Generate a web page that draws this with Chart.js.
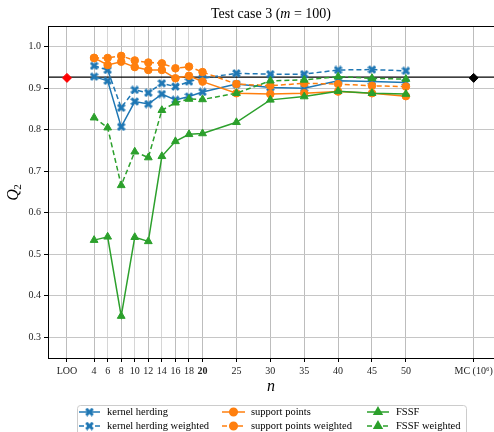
<!DOCTYPE html>
<html>
<head>
<meta charset="utf-8">
<script src="https://cdn.jsdelivr.net/npm/chart.js@4.4.1/dist/chart.umd.min.js"></script>
<style>
  html, body { margin: 0; padding: 0; background: #fff; overflow: hidden; }
  #wrap { width: 520px; height: 440px; }
</style>
</head>
<body>
<div id="wrap"><canvas id="chart" width="520" height="440"></canvas></div>
<script>
// sample sizes n
const nValues = [4, 6, 8, 10, 12, 14, 16, 18, 20, 25, 30, 35, 40, 45, 50];

// Q2 values
const kernelHerding = [0.928, 0.918, 0.807, 0.868, 0.862, 0.886, 0.872, 0.880, 0.891, 0.910, 0.902, 0.900, 0.918, 0.916, 0.914];
const kernelHerdingW = [0.954, 0.944, 0.853, 0.896, 0.889, 0.912, 0.904, 0.916, 0.924, 0.936, 0.934, 0.934, 0.944, 0.945, 0.942];
const supportPoints = [0.973, 0.956, 0.964, 0.951, 0.944, 0.944, 0.924, 0.930, 0.916, 0.888, 0.886, 0.888, 0.892, 0.888, 0.881];
const supportPointsW = [0.973, 0.973, 0.978, 0.967, 0.962, 0.960, 0.948, 0.952, 0.939, 0.910, 0.906, 0.912, 0.910, 0.906, 0.904];
const fssf = [0.534, 0.542, 0.351, 0.541, 0.531, 0.736, 0.772, 0.789, 0.791, 0.818, 0.872, 0.880, 0.893, 0.888, 0.886];
const fssfW = [0.829, 0.805, 0.666, 0.747, 0.733, 0.847, 0.865, 0.874, 0.873, 0.888, 0.918, 0.920, 0.928, 0.924, 0.922];

// reference values: LOO estimate and Monte Carlo (10^6)
const refLine = 0.927;
const looValue = 0.925;
const mcValue = 0.925;

// tick positions / labels
const xTicks = [0, 4, 6, 8, 10, 12, 14, 16, 18, 20, 25, 30, 35, 40, 45, 50, 60];
const yTicks = [0.3, 0.4, 0.5, 0.6, 0.7, 0.8, 0.9, 1.0];

const BLUE = "#1f77b4", ORANGE = "#ff7f0e", GREEN = "#2ca02c";
const SERIF = "'Liberation Serif', 'DejaVu Serif', serif";

// filled "X" marker like matplotlib's
function makeXMarker(color) {
    const c = document.createElement("canvas");
    c.width = 9; c.height = 9;
    const g = c.getContext("2d");
    g.strokeStyle = color;
    g.lineWidth = 3;
    g.beginPath();
    g.moveTo(1.2, 1.2); g.lineTo(7.8, 7.8);
    g.moveTo(7.8, 1.2); g.lineTo(1.2, 7.8);
    g.stroke();
    return c;
}
const xMarker = makeXMarker(BLUE);

function pts(vals) {
    return vals.map((v, i) => ({ x: nValues[i], y: v }));
}

function series(label, vals, color, style, dashed, order) {
    return {
        label,
        data: pts(vals),
        borderColor: color,
        backgroundColor: color,
        borderWidth: 1.5,
        borderDash: dashed ? [5, 3] : [],
        pointStyle: style,
        pointRadius: style === "circle" ? 3.8 : 4.5,
        pointBorderWidth: 1,
        pointBorderColor: color,
        pointBackgroundColor: color,
        tension: 0,
        order,
    };
}

const datasets = [
    {
        label: "ref",
        data: [{ x: -2.8, y: refLine }, { x: 63, y: refLine }],
        borderColor: "#000",
        borderWidth: 1.2,
        pointRadius: 0,
        order: 20,
        legendSkip: true,
    },
    series("kernel herding", kernelHerding, BLUE, xMarker, false, 10),
    series("kernel herding weighted", kernelHerdingW, BLUE, xMarker, true, 9),
    series("support points", supportPoints, ORANGE, "circle", false, 8),
    series("support points weighted", supportPointsW, ORANGE, "circle", true, 7),
    series("FSSF", fssf, GREEN, "triangle", false, 6),
    series("FSSF weighted", fssfW, GREEN, "triangle", true, 5),
    {
        label: "LOO",
        data: [{ x: 0, y: looValue }],
        showLine: false,
        pointStyle: "rectRot",
        pointRadius: 4.5,
        backgroundColor: "#ff0000",
        borderColor: "#ff0000",
        order: 1,
        legendSkip: true,
    },
    {
        label: "MC",
        data: [{ x: 60, y: mcValue }],
        showLine: false,
        pointStyle: "rectRot",
        pointRadius: 4.5,
        backgroundColor: "#000",
        borderColor: "#000",
        order: 1,
        legendSkip: true,
    },
];

// Title, axis labels, frame and the legend box
const decorPlugin = {
    id: "decor",
    afterDraw(chart) {
        const ctx = chart.ctx;
        const area = chart.chartArea;
        ctx.save();

        // frame
        ctx.strokeStyle = "#000";
        ctx.lineWidth = 1;
        ctx.strokeRect(area.left + 0.5, area.top + 0.5, area.right - area.left, area.bottom - area.top);

        // title with italic m
        const cx = (area.left + area.right) / 2;
        const parts = [
            { t: "Test case 3 (", f: "14px " + SERIF },
            { t: "m", f: "italic 14px " + SERIF },
            { t: " = 100)", f: "14px " + SERIF },
        ];
        let total = 0;
        parts.forEach(p => { ctx.font = p.f; p.w = ctx.measureText(p.t).width; total += p.w; });
        let x = cx - total / 2;
        ctx.fillStyle = "#000";
        ctx.textBaseline = "middle";
        ctx.textAlign = "left";
        parts.forEach(p => { ctx.font = p.f; ctx.fillText(p.t, x, 14); x += p.w; });

        // x label
        ctx.font = "italic 16px " + SERIF;
        ctx.textAlign = "center";
        ctx.fillText("n", cx, 387);

        // y label Q_2
        ctx.save();
        ctx.translate(14, (area.top + area.bottom) / 2);
        ctx.rotate(-Math.PI / 2);
        ctx.font = "italic 16px " + SERIF;
        ctx.textAlign = "center";
        ctx.fillText("Q", -3, 0);
        ctx.font = "11px " + SERIF;
        ctx.fillText("2", 5, 4);
        ctx.restore();

        // legend
        const bx = 77, by = 405, bw = 389, bh = 32;
        ctx.fillStyle = "rgba(255,255,255,0.9)";
        ctx.strokeStyle = "#cccccc";
        ctx.lineWidth = 1;
        ctx.beginPath();
        ctx.roundRect(bx + 0.5, by + 0.5, bw, bh, 3);
        ctx.fill();
        ctx.stroke();

        const cols = [{ l: 79, r: 100, t: 107 }, { l: 222, r: 245, t: 251 }, { l: 367, r: 389, t: 396 }];
        const rows = [412, 426];
        const entries = chart.data.datasets.filter(d => !d.legendSkip);
        entries.forEach((d, i) => {
            const col = cols[Math.floor(i / 2)];
            const y = rows[i % 2];
            ctx.strokeStyle = d.borderColor;
            ctx.lineWidth = 1.5;
            ctx.setLineDash(d.borderDash || []);
            ctx.beginPath();
            ctx.moveTo(col.l, y);
            ctx.lineTo(col.r, y);
            ctx.stroke();
            ctx.setLineDash([]);
            ctx.fillStyle = d.backgroundColor;
            Chart.helpers.drawPoint(ctx, {
                pointStyle: d.pointStyle,
                radius: d.pointRadius,
                rotation: 0,
                borderWidth: 1,
            }, (col.l + col.r) / 2, y);
            ctx.fillStyle = "#000";
            ctx.font = "10.5px " + SERIF;
            ctx.textAlign = "left";
            ctx.textBaseline = "middle";
            ctx.fillText(d.label, col.t, y + 0.5);
        });

        ctx.restore();
    },
};

new Chart(document.getElementById("chart"), {
    type: "line",
    data: { datasets },
    options: {
        responsive: false,
        animation: false,
        events: [],
        layout: { padding: { top: 26, right: 26, left: 0, bottom: 0 } },
        plugins: {
            legend: { display: false },
            title: { display: false },
            tooltip: { enabled: false },
        },
        scales: {
            x: {
                type: "linear",
                min: -2.8,
                max: 63,
                afterBuildTicks: axis => { axis.ticks = xTicks.map(v => ({ value: v })); },
                afterFit: axis => { axis.height = 82; },
                grid: {
                    color: ctx => [6, 10, 14, 18].includes(ctx.tick && ctx.tick.value) ? "#d6d6d6" : "#bdbdbd",
                    lineWidth: 1,
                    tickLength: 4,
                    tickColor: "#000",
                },
                border: { color: "#000", width: 1 },
                ticks: {
                    autoSkip: false,
                    maxRotation: 0,
                    padding: 3,
                    color: "#222",
                    font: ctx => ({
                        family: SERIF,
                        size: 10,
                        weight: ctx.tick && ctx.tick.value === 20 ? "bold" : "normal",
                    }),
                    callback: v => v === 0 ? "LOO" : v === 60 ? "MC (10\u2076)" : String(v),
                },
            },
            y: {
                min: 0.25,
                max: 1.05,
                afterBuildTicks: axis => { axis.ticks = yTicks.map(v => ({ value: v })); },
                afterFit: axis => { axis.width = 48; },
                grid: {
                    color: "#c6c6c6",
                    lineWidth: 1,
                    tickLength: 4,
                    tickColor: "#000",
                },
                border: { color: "#000", width: 1 },
                ticks: {
                    padding: 3,
                    color: "#222",
                    font: { family: SERIF, size: 10 },
                    callback: v => v.toFixed(1),
                },
            },
        },
    },
    plugins: [decorPlugin],
});
</script>
</body>
</html>
